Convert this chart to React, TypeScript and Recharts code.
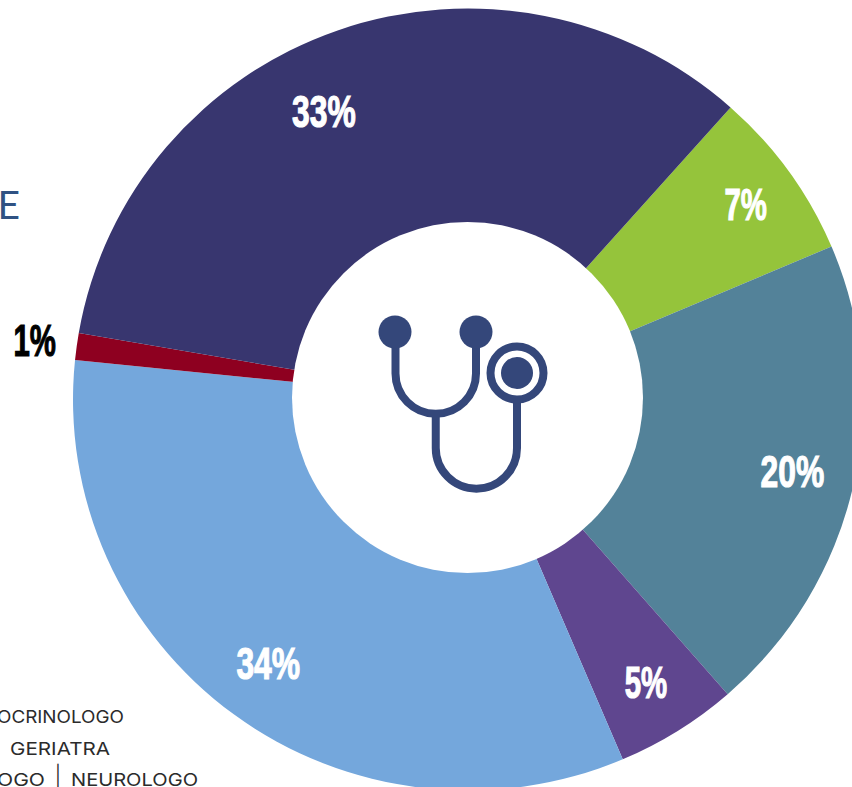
import React from 'react';
import { PieChart, Pie, Cell } from 'recharts';

// slice order runs clockwise from the green one
const specialties = ['Verde', 'Petrolio', 'Viola', 'Azzurro', 'Rosso', 'Blu'];
const printedLabels = ['7%', '20%', '5%', '34%', '1%', '33%'];
// shares as drawn, measured off the ring (they differ a little from the printed labels)
const sliceShares = [7.03, 19.98, 5.01, 33.02, 1.11, 33.85];
const sliceColors = ['#95c43b', '#538299', '#5f468f', '#74a7dc', '#8e0020', '#38366f'];
const labelColors = ['#ffffff', '#ffffff', '#ffffff', '#ffffff', '#000000', '#ffffff'];
const labelRadius = [337, 329, 333, 330, 433, 321];
const labelAngleShift = [-0.32, 0.34, -0.16, -0.45, 0, 7.12];

const data = specialties.map((name, i) => ({ name, value: sliceShares[i] }));

const CX = 468;
const CY = 399.5;
const RAD = Math.PI / 180;

const renderLabel = (props: any) => {
    const { midAngle, index } = props;
    const angle = midAngle + labelAngleShift[index];
    const x = CX + labelRadius[index] * Math.cos(angle * RAD);
    const y = CY - labelRadius[index] * Math.sin(angle * RAD);
    return (
        <text
            x={x}
            y={y}
            textAnchor="middle"
            dominantBaseline="central"
            fill={labelColors[index]}
            stroke={labelColors[index]}
            strokeWidth={1.2}
            fontFamily="'Liberation Sans Narrow', 'Liberation Sans', sans-serif"
            fontWeight="bold"
            fontSize={45}
            textLength={printedLabels[index].length === 2 ? 42 : 63}
            lengthAdjust="spacingAndGlyphs"
        >
            {printedLabels[index]}
        </text>
    );
};

const Stethoscope = () => (
    <g fill="none" stroke="#34477a" strokeWidth={8}>
        <path d="M395.5 332 V373.5 A40.25 40.25 0 0 0 476 373.5 V332" />
        <path d="M435.75 414 V448 A40.5 40.5 0 0 0 517 448 V400" />
        <circle cx={517} cy={373} r={26.5} fill="#ffffff" />
        <g fill="#34477a" stroke="none">
            <circle cx={395} cy={332} r={16.5} />
            <circle cx={476} cy={332} r={16.5} />
            <circle cx={517} cy={373} r={16} />
        </g>
    </g>
);

export default function App() {
    return (
        <div style={{ position: 'absolute', left: 0, top: 0, width: 852, height: 787, overflow: 'hidden', background: '#ffffff' }}>
            {/* the ring in the original is about 1% wider than tall */}
            <div style={{ transform: 'scaleX(1.0102)', transformOrigin: `${CX}px 0` }}>
                <PieChart width={852} height={787} margin={{ top: 0, right: 0, bottom: 0, left: 0 }} style={{ overflow: 'visible' }}>
                    <Pie
                        data={data}
                        dataKey="value"
                        cx={CX}
                        cy={CY}
                        innerRadius={170}
                        outerRadius={391}
                        startAngle={48.34}
                        endAngle={-311.66}
                        stroke="none"
                        label={renderLabel}
                        labelLine={false}
                        isAnimationActive={false}
                    >
                        {data.map((d, i) => (
                            <Cell key={d.name} fill={sliceColors[i]} />
                        ))}
                    </Pie>
                </PieChart>
            </div>
            <svg width={852} height={787} style={{ position: 'absolute', left: 0, top: 0 }}>
                {/* the hole sits a little off the ring's centre in the original */}
                <circle cx={467.5} cy={397.5} r={175.5} fill="#ffffff" />
                <Stethoscope />
                <text x={20} y={219} textAnchor="end" fill="#2f5283" fontFamily="Lato, sans-serif" fontWeight={400} fontSize={39}>E</text>
                <g fill="#2b2b2b" fontFamily="Inter, sans-serif" fontWeight={400} fontSize={17.5}>
                    <text x={-3} y={723} textLength={127} lengthAdjust="spacingAndGlyphs">OCRINOLOGO</text>
                    <text x={10} y={754.5} textLength={100} lengthAdjust="spacingAndGlyphs">GERIATRA</text>
                    <text x={-3} y={786} textLength={48} lengthAdjust="spacingAndGlyphs">OGO</text>
                    <text x={58} y={785} fontSize={22} fontWeight={300} textAnchor="middle">|</text>
                    <text x={71} y={786} textLength={127} lengthAdjust="spacingAndGlyphs">NEUROLOGO</text>
                </g>
            </svg>
        </div>
    );
}
